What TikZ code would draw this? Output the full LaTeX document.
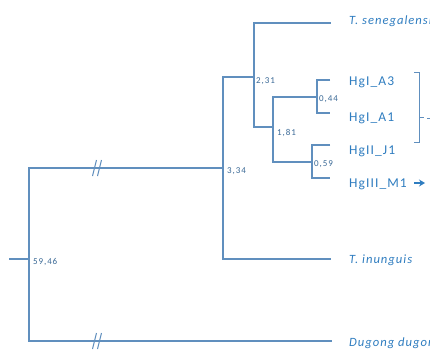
\documentclass[tikz,border=0pt]{standalone}
\usepackage{fontspec}
\setmainfont{Carlito}
\newfontfamily\leaffont[LetterSpace=8]{Carlito}
\newfontfamily\numfont[LetterSpace=10]{Carlito}
\usetikzlibrary{arrows.meta}
\definecolor{branch}{RGB}{96,143,190}
\definecolor{leafblue}{RGB}{47,125,192}
\definecolor{numblue}{RGB}{58,105,150}
\tikzset{
  br/.style={draw=branch, line width=1.2pt},
  leaf/.style={anchor=base west, inner sep=0pt, text=leafblue, font=\leaffont\fontsize{13.5}{13.5}\selectfont},
  sp/.style={anchor=base west, inner sep=0pt, text=leafblue, font=\leaffont\itshape\fontsize{12.6}{12.6}\selectfont},
  num/.style={anchor=base west, inner sep=0pt, text=numblue, font=\numfont\fontsize{9}{9}\selectfont},
  brk/.style={draw=branch, line width=1pt}
}
\begin{document}
\begin{tikzpicture}[x=1pt,y=-1pt]
\useasboundingbox[fill=white] (0,0) rectangle (430,349);
% internal nodes
\coordinate (stub) at (9,259);
\coordinate (root) at (29,259);
\coordinate (n334) at (223,168);
\coordinate (n231) at (254,77);
\coordinate (n181) at (273,127);
\coordinate (n044) at (317,97);
\coordinate (n059) at (312,162);
% leaf ends
\coordinate (ts) at (331,23);
\coordinate (a3) at (330,80);
\coordinate (a1) at (330,113);
\coordinate (j1) at (330,145);
\coordinate (m1) at (330,178);
\coordinate (ti) at (331,259);
\coordinate (dd) at (332,341);
% branches
\draw[br] (stub) -- (root);
\draw[br] (n334) -| (root) |- (dd);
\draw[br] (n231) -| (n334) |- (ti);
\draw[br] (n181) -| (n231) |- (ts);
\draw[br] (n044) -| (n181) |- (n059);
\draw[br] (a3) -| (n044) |- (a1);
\draw[br] (j1) -| (n059) |- (m1);
% break marks
\coordinate (bk1) at (97,168);
\coordinate (bk2) at (97,341);
\draw[brk] ([xshift=-4.5pt,yshift=-8pt]bk1) -- ([xshift=-0.5pt,yshift=8pt]bk1);
\draw[brk] ([xshift=0.5pt,yshift=-8pt]bk1) -- ([xshift=4.5pt,yshift=8pt]bk1);
\draw[brk] ([xshift=-4.5pt,yshift=-8pt]bk2) -- ([xshift=-0.5pt,yshift=8pt]bk2);
\draw[brk] ([xshift=0.5pt,yshift=-8pt]bk2) -- ([xshift=4.5pt,yshift=8pt]bk2);
% support values
\node[num] (v5946) at (33,264) {59,46};
\node[num] (v334) at (227,173) {3,34};
\node[num] (v231) at (256,83) {2,31};
\node[num] (v181) at (277,135) {1,81};
\node[num] (v044) at (319,101) {0,44};
\node[num] (v059) at (314,166) {0,59};
% leaf labels
\node[sp] (lts) at (349,24) {T. senegalensis};
\node[leaf] (la3) at (349,85) {HgI\_A3};
\node[leaf] (la1) at (349,121) {HgI\_A1};
\node[leaf] (lj1) at (349,154) {HgII\_J1};
\node[leaf] (lm1) at (349,187) {HgIII\_M1};
\node[sp] (lti) at (349,263) {T. inunguis};
\node[sp] (ldd) at (349,346) {Dugong dugon};
% bracket
\coordinate (bt) at (419,72);
\coordinate (bb) at (419,142);
\coordinate (bm) at (419,117);
\draw[br, line width=1pt] ([xshift=-5pt]bt) -- (bt) -- (bb) -- ([xshift=-5pt]bb);
\draw[br, line width=1pt] (bm) -- ([xshift=5pt]bm);
\coordinate (bm2) at (427,118);
\draw[br, line width=1pt] (bm2) -- ([xshift=5pt]bm2);
% arrow
\coordinate (ar1) at (414,183);
\coordinate (ar2) at (425,183);
\draw[draw=leafblue, line width=1.8pt, -{Stealth[length=6pt,width=7pt]}] (ar1) -- (ar2);
\end{tikzpicture}
\end{document}
